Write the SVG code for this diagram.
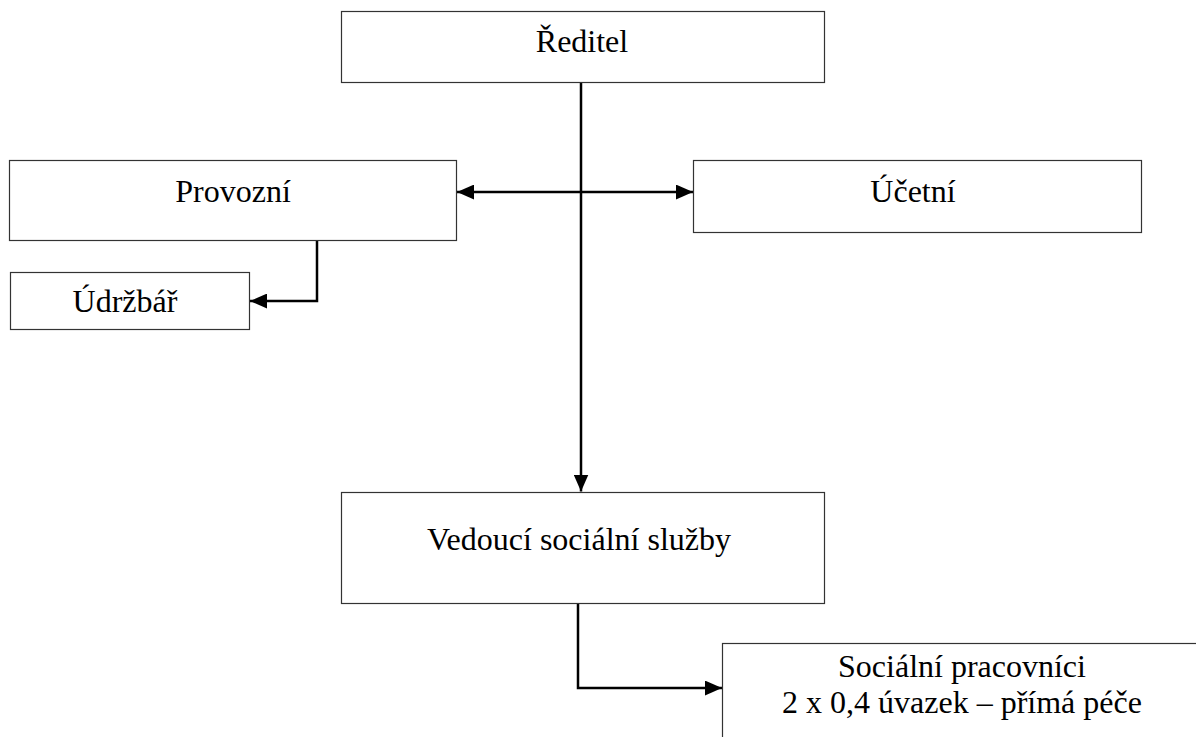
<svg xmlns="http://www.w3.org/2000/svg" width="1196" height="737" viewBox="0 0 1196 737">
  <style>
    .box { fill: #ffffff; stroke: #333333; stroke-width: 1.2; }
    .lbl { font-family: "Liberation Serif", "Times New Roman", serif; font-size: 32px; fill: #000000; text-anchor: middle; }
    .conn { fill: none; stroke: #000000; stroke-width: 2.5; }
  </style>
  <defs>
    <marker id="arr" markerUnits="userSpaceOnUse" markerWidth="17" markerHeight="15" viewBox="0 0 16 14" refX="16" refY="7" orient="auto-start-reverse">
      <path d="M0,0 L16,7 L0,14 Z" fill="#000000"/>
    </marker>
  </defs>
  <rect width="1196" height="737" fill="#ffffff"/>

  <g id="connectors">
    <line class="conn" x1="581" y1="82" x2="581" y2="491.5" marker-end="url(#arr)"/>
    <line class="conn" x1="457" y1="192" x2="693" y2="192" marker-start="url(#arr)" marker-end="url(#arr)"/>
    <path class="conn" d="M317,240 V301 H250" marker-end="url(#arr)"/>
    <path class="conn" d="M578,604 V688 H722" marker-end="url(#arr)"/>
  </g>

  <g id="reditel">
    <rect class="box" x="341.5" y="11.5" width="483" height="71"/>
    <text class="lbl" x="582" y="52">Ředitel</text>
  </g>
  <g id="provozni">
    <rect class="box" x="9.5" y="160.5" width="447" height="80"/>
    <text class="lbl" x="233" y="202">Provozní</text>
  </g>
  <g id="ucetni">
    <rect class="box" x="693.5" y="160.5" width="448" height="72"/>
    <text class="lbl" x="913" y="202">Účetní</text>
  </g>
  <g id="udrzbar">
    <rect class="box" x="10.5" y="272.5" width="239" height="57"/>
    <text class="lbl" x="125" y="312">Údržbář</text>
  </g>
  <g id="vedouci">
    <rect class="box" x="341.5" y="492.5" width="483" height="111"/>
    <text class="lbl" x="579" y="550">Vedoucí sociální služby</text>
  </g>
  <g id="socialni">
    <rect class="box" x="722.5" y="643.5" width="500" height="120"/>
    <text class="lbl" x="962" y="677">Sociální pracovníci</text>
    <text class="lbl" x="962" y="713">2 x 0,4 úvazek – přímá péče</text>
  </g>
</svg>
